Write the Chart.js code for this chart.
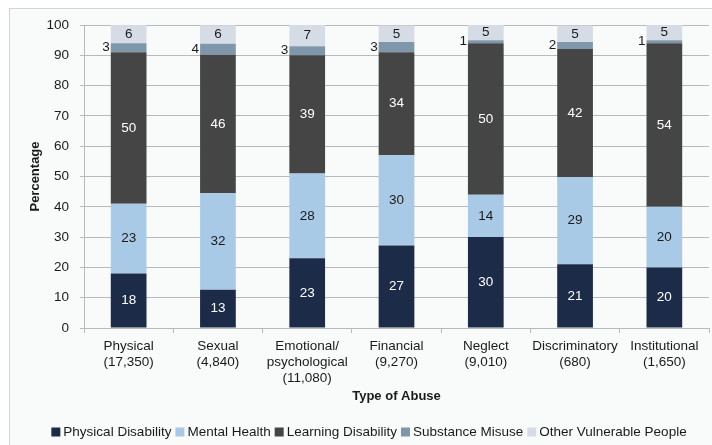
<!DOCTYPE html>
<html>
<head>
<meta charset="utf-8">
<script src="https://cdn.jsdelivr.net/npm/chart.js@4.4.1/dist/chart.umd.min.js"></script>
<style>
  html, body { margin: 0; padding: 0; background: #ffffff; }
  #frame {
    position: absolute; left: 9px; top: 8px;
    width: 703px; height: 437px;
    border-top: 1px solid #d4d4d4; border-left: 1px solid #d4d4d4;
    background: #f9fafa;
  }
  #chart { display: block; }
</style>
</head>
<body>
<div id="frame"><canvas id="chart" width="703" height="437"></canvas></div>
<script>
const categories = [
    ["Physical", "(17,350)"],
    ["Sexual", "(4,840)"],
    ["Emotional/", "psychological", "(11,080)"],
    ["Financial", "(9,270)"],
    ["Neglect", "(9,010)"],
    ["Discriminatory", "(680)"],
    ["Institutional", "(1,650)"],
];
// percentages (labels show them rounded)
const physicalDisability = [18, 12.6, 23, 27.2, 30, 21.0, 20];
const mentalHealth = [23, 31.9, 28, 29.8, 14, 28.8, 20];
const learningDisability = [50, 45.7, 39, 34.0, 50, 42.3, 54];
const substanceMisuse = [3, 3.6, 3, 3.4, 1, 2.3, 1];
const otherVulnerable = [6, 6.1, 7, 5.4, 5, 5.4, 5];

const FONT = "'Liberation Sans', Arial, sans-serif";
const TEXT = "#1a1a1a";
const GRID = "#b9b9b9";

// value labels: centred in segments, substance misuse written to the left
const segmentLabels = {
    id: "segmentLabels",
    afterDatasetsDraw(chart) {
        const ctx = chart.ctx;
        ctx.save();
        ctx.font = "13.5px " + FONT;
        ctx.textBaseline = "middle";
        chart.data.datasets.forEach((ds, di) => {
            const meta = chart.getDatasetMeta(di);
            meta.data.forEach((bar, i) => {
                const v = Math.round(ds.data[i]);
                const yMid = (bar.y + bar.base) / 2;
                if (di === 3) {
                    ctx.fillStyle = TEXT;
                    ctx.textAlign = "right";
                    ctx.fillText(String(v), bar.x - bar.width / 2 - 1, yMid);
                } else {
                    ctx.fillStyle = (di === 0 || di === 2) ? "#ffffff" : TEXT;
                    ctx.textAlign = "center";
                    ctx.fillText(String(v), bar.x, yMid);
                }
            });
        });
        ctx.restore();
    },
};

// legend row along the bottom, square markers
const bottomLegend = {
    id: "bottomLegend",
    afterDraw(chart) {
        const ctx = chart.ctx;
        const box = 9, gapText = 3, gapItem = 4;
        ctx.save();
        ctx.font = "13.5px " + FONT;
        ctx.textBaseline = "middle";
        ctx.textAlign = "left";
        const items = chart.data.datasets.map((d) => ({
            label: d.label, color: d.backgroundColor, w: ctx.measureText(d.label).width,
        }));
        const total = items.reduce((s, it) => s + box + gapText + it.w, 0) + gapItem * (items.length - 1);
        let x = 359 - total / 2;
        const y = 423;
        items.forEach((it) => {
            ctx.fillStyle = it.color;
            ctx.fillRect(x, y - box / 2, box, box);
            x += box + gapText;
            ctx.fillStyle = TEXT;
            ctx.fillText(it.label, x, y);
            x += it.w + gapItem;
        });
        ctx.restore();
    },
};

function ds(label, data, color) {
    return {
        label, data,
        backgroundColor: color,
        borderWidth: 0,
        barPercentage: 0.4,
        categoryPercentage: 1.0,
    };
}

new Chart(document.getElementById("chart"), {
    type: "bar",
    data: {
        labels: categories,
        datasets: [
            ds("Physical Disability", physicalDisability, "#1b2b48"),
            ds("Mental Health", mentalHealth, "#a9cae6"),
            ds("Learning Disability", learningDisability, "#454545"),
            ds("Substance Misuse", substanceMisuse, "#7f97aa"),
            ds("Other Vulnerable People", otherVulnerable, "#d5dce6"),
        ],
    },
    options: {
        responsive: false,
        animation: false,
        layout: { padding: { top: 16, right: 4, left: 14, bottom: 42 } },
        plugins: {
            legend: { display: false },
            tooltip: { enabled: false },
        },
        scales: {
            x: {
                stacked: true,
                afterFit: (scale) => { scale.height = 76; },
                grid: { display: true, drawOnChartArea: false, drawTicks: true, tickLength: 5, color: GRID, offset: true },
                border: { color: GRID },
                ticks: { font: { family: FONT, size: 13.5 }, color: TEXT, padding: 5, maxRotation: 0, autoSkip: false },
                title: {
                    display: true, text: "Type of Abuse",
                    font: { family: FONT, size: 13, weight: "bold" }, color: TEXT,
                    padding: 0,
                },
            },
            y: {
                stacked: true,
                min: 0, max: 100,
                afterFit: (scale) => {
                    scale.width = 60;
                    // tick padding shouldn't push the plot top down
                    scale.paddingTop = 0;
                    scale.paddingBottom = 0;
                },
                ticks: { stepSize: 10, font: { family: FONT, size: 13.5 }, color: TEXT, padding: 11 },
                grid: { color: GRID, tickLength: 4 },
                border: { color: GRID },
                title: {
                    display: true, text: "Percentage",
                    font: { family: FONT, size: 13, weight: "bold" }, color: TEXT,
                    padding: { bottom: 4 },
                },
            },
        },
    },
    plugins: [segmentLabels, bottomLegend],
});
</script>
</body>
</html>
